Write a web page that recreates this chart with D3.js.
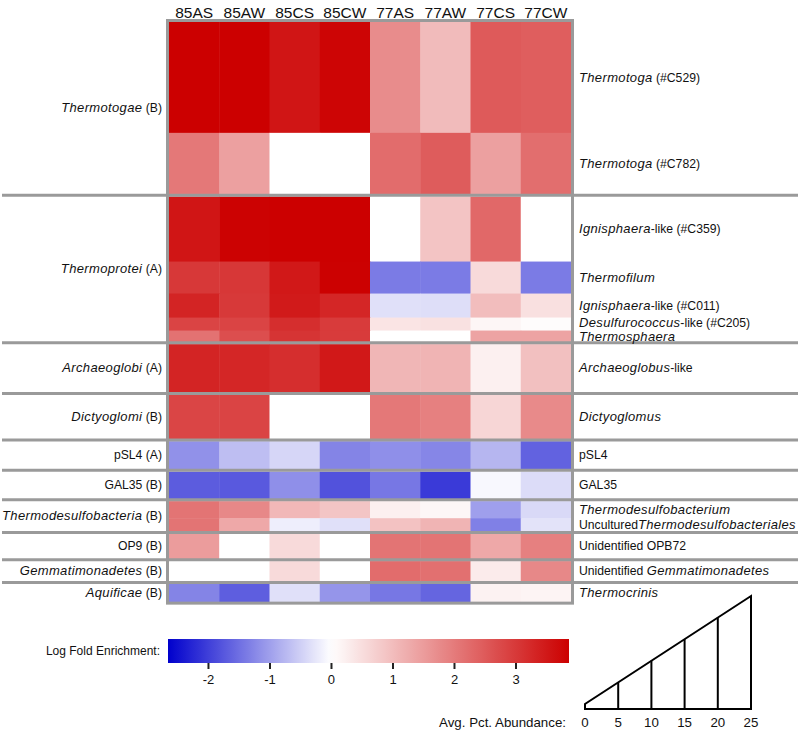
<!DOCTYPE html>
<html>
<head>
<meta charset="utf-8">
<script src="https://cdn.jsdelivr.net/npm/d3@7"></script>
<style>
  html, body { margin: 0; padding: 0; background: #fff; }
  svg { display: block; font-family: "Liberation Sans", Arial, Helvetica, sans-serif; }
</style>
</head>
<body>
<svg id="chart" width="800" height="733"></svg>
<script>
// ---------------- DATA ----------------
const samples = ["85AS", "85AW", "85CS", "85CW", "77AS", "77AW", "77CS", "77CW"];

// group labels (text between * * is italic)
const groups = [
  "*Thermotogae* (B)", "*Thermoprotei* (A)", "*Archaeoglobi* (A)", "*Dictyoglomi* (B)",
  "pSL4 (A)", "GAL35 (B)", "*Thermodesulfobacteria* (B)", "OP9 (B)",
  "*Gemmatimonadetes* (B)", "*Aquificae* (B)"
];

const rowLabels = [
  "*Thermotoga* (#C529)", "*Thermotoga* (#C782)",
  "*Ignisphaera*-like (#C359)", "*Thermofilum*", "*Ignisphaera*-like (#C011)",
  "*Desulfurococcus*-like (#C205)", "*Thermosphaera*",
  "*Archaeoglobus*-like", "*Dictyoglomus*", "pSL4", "GAL35",
  "*Thermodesulfobacterium*", "Uncultured*Thermodesulfobacteriales*",
  "Unidentified OPB72", "Unidentified *Gemmatimonadetes*", "*Thermocrinis*"
];
const rowGroup = [0, 0, 1, 1, 1, 1, 1, 2, 3, 4, 5, 6, 6, 7, 8, 9];

// average percent abundance (sets row height)
const abundance = [24.5, 13.0, 13.9, 6.25, 4.4, 1.85, 1.4, 10.0, 9.0, 5.3, 5.1, 2.8, 1.85, 4.6, 3.5, 3.0];

// log fold enrichment, one row per taxon, columns in `samples` order
const enrichment = [
  [3.87, 3.87, 3.55, 3.80, 1.75, 1.03, 2.50, 2.45],
  [2.05, 1.44, 0.00, 0.00, 2.23, 2.47, 1.44, 2.20],
  [3.55, 3.84, 3.87, 3.87, 0.00, 0.90, 2.29, 0.00],
  [3.02, 3.03, 3.50, 3.85, -1.37, -1.37, 0.56, -1.37],
  [3.32, 3.00, 3.48, 3.30, -0.32, -0.34, 1.00, 0.47],
  [2.84, 2.84, 3.17, 2.98, 0.41, 0.45, 0.14, 0.05],
  [2.14, 2.69, 3.08, 2.97, 0.00, 0.00, 1.40, 1.40],
  [3.33, 3.30, 3.17, 3.50, 1.11, 1.14, 0.23, 0.96],
  [2.82, 2.84, 0.00, 0.00, 2.05, 1.93, 0.62, 1.78],
  [-1.14, -0.68, -0.43, -1.28, -1.16, -1.26, -0.76, -1.63],
  [-1.69, -1.73, -1.16, -1.80, -1.41, -2.05, -0.07, -0.36],
  [2.11, 1.81, 1.08, 0.88, 0.23, 0.14, -1.00, -0.39],
  [2.11, 1.32, -0.18, -0.32, 0.93, 1.14, -1.32, -0.29],
  [1.50, 0.00, 0.56, 0.00, 2.11, 2.11, 1.32, 1.93],
  [0.00, 0.00, 0.56, 0.00, 2.23, 2.17, 0.30, 1.81],
  [-1.28, -1.67, -0.32, -1.10, -1.41, -1.60, 0.20, 0.17]
];

const colorDomain = [-2.65, 0, 3.87];
const colorTicks = [-2, -1, 0, 1, 2, 3];
const abundanceTicks = [0, 5, 10, 15, 20, 25];

// ---------------- DRAW ----------------
(function draw() {
const svg = d3.select("#chart");
const gridColor = "#9a9a9a";
const fs = 12.2;

function richText(sel, str) {
  const parts = str.split("*");
  parts.forEach((p, i) => {
    if (p === "") return;
    const ts = sel.append("tspan").text(p);
    if (i % 2 === 1) ts.attr("font-style", "italic").attr("font-size", 13).attr("letter-spacing", 0.35);
  });
}

const color = d3.scaleLinear().domain(colorDomain).range(["#0000cc", "#ffffff", "#cc0000"]).clamp(true);

const x = d3.scaleBand().domain(samples).range([169, 571]).padding(0);
const hScale = d3.scaleLinear().domain([0, 25]).range([5, 113]);

// vertical layout
const topY = 22, gap = 2.5;
const rows = [];
let yy = topY;
abundance.forEach((a, i) => {
  if (i > 0 && rowGroup[i] !== rowGroup[i - 1]) yy += gap;
  const h = hScale(a);
  rows.push({ i, y0: yy, h, g: rowGroup[i], ly: yy + h / 2 });
  yy += h;
});
const bottomY = yy;
// spread crowded right-hand labels a little
for (let k = 1; k < rows.length; k++) {
  const d = rows[k].ly - rows[k - 1].ly;
  if (d < 14) { rows[k - 1].ly -= (14 - d) / 2; rows[k].ly += (14 - d) / 2; }
}

// group extents
const groupExt = groups.map((g, gi) => {
  const r = rows.filter(d => d.g === gi);
  return { gi, y0: r[0].y0, y1: r[r.length - 1].y0 + r[r.length - 1].h };
});

// cells
const cellG = svg.append("g");
rows.forEach(r => {
  cellG.selectAll(null)
    .data(enrichment[r.i])
    .enter().append("rect")
    .attr("x", (d, j) => x(samples[j]))
    .attr("y", r.y0)
    .attr("width", x.bandwidth() + 0.5)
    .attr("height", r.h + 0.5)
    .attr("fill", d => color(d));
});

// group separators (full width)
svg.append("g").selectAll("line")
  .data(groupExt.slice(0, -1))
  .enter().append("line")
  .attr("x1", 2).attr("x2", 798)
  .attr("y1", d => d.y1 + gap / 2).attr("y2", d => d.y1 + gap / 2)
  .attr("stroke", gridColor).attr("stroke-width", 3);

// outer border
svg.append("rect")
  .attr("x", 167.5).attr("y", topY - 1.5)
  .attr("width", 571 - 169 + 3).attr("height", bottomY - topY + 3)
  .attr("fill", "none").attr("stroke", gridColor).attr("stroke-width", 3);

// column headers
svg.append("g").selectAll("text")
  .data(samples)
  .enter().append("text")
  .attr("x", d => x(d) + x.bandwidth() / 2)
  .attr("y", 18)
  .attr("text-anchor", "middle")
  .attr("font-size", 15.5)
  .attr("fill", "#111")
  .text(d => d);

// group labels (left)
groupExt.forEach(g => {
  const t = svg.append("text")
    .attr("x", 162)
    .attr("y", (g.y0 + g.y1) / 2)
    .attr("dy", "0.35em")
    .attr("text-anchor", "end")
    .attr("font-size", fs)
    .attr("fill", "#111");
  richText(t, groups[g.gi]);
});

// row labels (right)
rows.forEach(r => {
  const t = svg.append("text")
    .attr("x", 579)
    .attr("y", r.ly)
    .attr("dy", "0.35em")
    .attr("text-anchor", "start")
    .attr("font-size", fs)
    .attr("fill", "#111");
  richText(t, rowLabels[r.i]);
});

// ---------- colour legend ----------
const lx = d3.scaleLinear().domain([colorDomain[0], colorDomain[2]]).range([168, 569]);
const defs = svg.append("defs");
const grad = defs.append("linearGradient").attr("id", "lfe").attr("x1", "0%").attr("x2", "100%");
d3.range(0, 1.0001, 0.02).forEach(t => {
  const v = colorDomain[0] + t * (colorDomain[2] - colorDomain[0]);
  grad.append("stop").attr("offset", (t * 100) + "%").attr("stop-color", color(v));
});
svg.append("rect")
  .attr("x", lx.range()[0]).attr("y", 639)
  .attr("width", lx.range()[1] - lx.range()[0]).attr("height", 24)
  .attr("fill", "url(#lfe)");
const lAxis = svg.append("g").attr("transform", "translate(0,663)")
  .call(d3.axisBottom(lx).tickValues(colorTicks).tickSize(6).tickSizeOuter(0).tickFormat(d => String(d)));
lAxis.select(".domain").remove();
lAxis.selectAll(".tick line").attr("stroke", "#222").attr("stroke-width", 2);
lAxis.selectAll(".tick text").attr("font-size", 13).attr("fill", "#111").attr("dy", "0.9em")
  .attr("font-family", "Liberation Sans, Arial, sans-serif");
svg.append("text")
  .attr("x", 160).attr("y", 651).attr("dy", "0.35em")
  .attr("text-anchor", "end").attr("font-size", 12).attr("fill", "#111")
  .text("Log Fold Enrichment:");

// ---------- abundance legend (triangle) ----------
const tx = d3.scaleLinear().domain([0, 25]).range([585, 751]);
const base = 709;
const tri = [[0, 0], [0, hScale(0)], [25, hScale(25)], [25, 0]].map(([v, h]) => [tx(v), base - h]);
svg.append("path")
  .attr("d", d3.line()(tri) + "Z")
  .attr("fill", "none").attr("stroke", "#000").attr("stroke-width", 2).attr("stroke-linejoin", "miter");
svg.append("g").selectAll("line")
  .data(abundanceTicks.slice(1, -1))
  .enter().append("line")
  .attr("x1", d => tx(d)).attr("x2", d => tx(d))
  .attr("y1", base).attr("y2", d => base - hScale(d))
  .attr("stroke", "#000").attr("stroke-width", 2);
svg.append("g").selectAll("text")
  .data(abundanceTicks)
  .enter().append("text")
  .attr("x", d => tx(d)).attr("y", 722).attr("dy", "0.35em")
  .attr("text-anchor", "middle").attr("font-size", 13.3).attr("fill", "#111")
  .text(d => d);
svg.append("text")
  .attr("x", 566).attr("y", 722).attr("dy", "0.35em")
  .attr("text-anchor", "end").attr("font-size", 13.3).attr("fill", "#111")
  .text("Avg. Pct. Abundance:");
})();
</script>
</body>
</html>
